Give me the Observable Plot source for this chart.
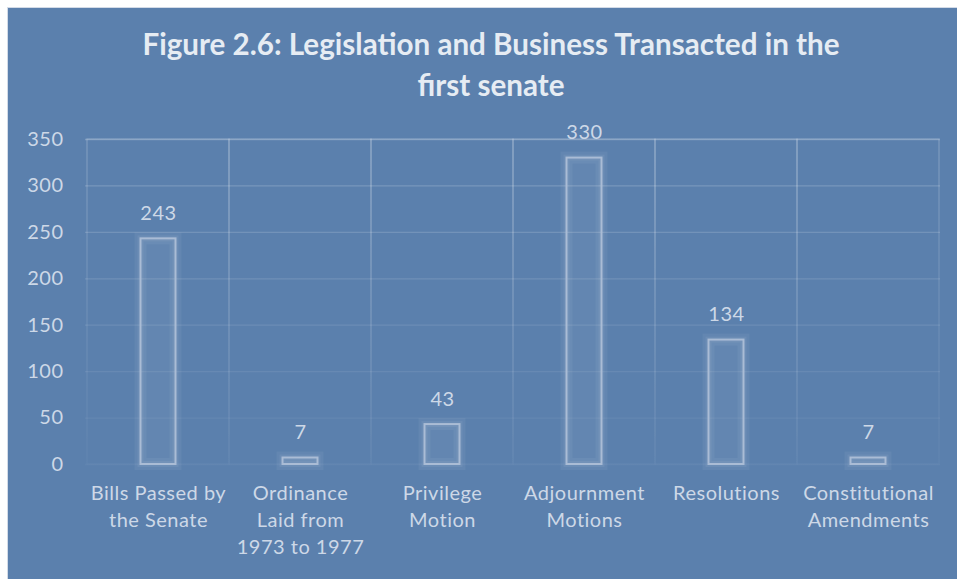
<!DOCTYPE html>
<html>
<head>
<meta charset="utf-8">
<script src="https://cdn.jsdelivr.net/npm/d3@7"></script>
<script src="https://cdn.jsdelivr.net/npm/@observablehq/plot@0.6"></script>
<style>
  html, body { margin: 0; padding: 0; background: #ffffff; }
  body { width: 957px; height: 579px; overflow: hidden; position: relative; font-family: Lato, "Open Sans", sans-serif; }
  #card {
    position: absolute; left: 7px; top: 7px; width: 960px; height: 580px;
    background: #5b80ad; border-top: 1px solid #d3dbe7; border-left: 1px solid #d3dbe7;
    overflow: hidden;
  }
  #title {
    position: absolute; left: 0; top: 15px; width: 966px; text-align: center;
    color: #e6ecf3; font-weight: 700; font-size: 29.6px; line-height: 41px;
  }
  #chart { position: absolute; left: 0; top: 100px; }
</style>
</head>
<body>
<div id="card">
  <div id="title">Figure 2.6: Legislation and Business Transacted in the<br>first senate</div>
  <div id="chart"></div>
</div>
<script>
// Business transacted in the first senate
const categories = [
  "Bills Passed by\nthe Senate",
  "Ordinance\nLaid from\n1973 to 1977",
  "Privilege\nMotion",
  "Adjournment\nMotions",
  "Resolutions",
  "Constitutional\nAmendments"
];
const counts = [243, 7, 43, 330, 134, 7];
const yTicks = [0, 50, 100, 150, 200, 250, 300, 350];

const rows = categories.map((c, i) => ({category: c, count: counts[i]}));
const yMax = d3.max(yTicks);

const textColor = "#cdd8e7";
const gridStroke = "url(#gridFade)";

const plot = Plot.plot({
  width: 949,
  height: 472,
  marginTop: 31,
  marginBottom: 116,
  marginLeft: 77,
  marginRight: 17,
  style: {background: "transparent", fontFamily: "Lato, 'Open Sans', sans-serif", fontSize: "20px", color: textColor, overflow: "visible"},
  x: {domain: categories, padding: 0, label: null},
  y: {domain: [0, yMax], label: null},
  marks: [
    // category cells give the vertical separators
    Plot.barY(categories, {x: d => d, y1: 0, y2: yMax, fill: "none", stroke: gridStroke, strokeWidth: 1.3}),
    Plot.ruleY(yTicks, {stroke: gridStroke, strokeWidth: 1.3}),
    // soft glow around each bar
    Plot.barY(rows, {x: "category", y: "count", insetLeft: 53.5, insetRight: 53.5, fill: "none", stroke: "#ffffff", strokeOpacity: 0.05, strokeWidth: 12}),
    Plot.barY(rows, {x: "category", y: "count", insetLeft: 53.5, insetRight: 53.5, fill: "none", stroke: "#ffffff", strokeOpacity: 0.06, strokeWidth: 6}),
    Plot.barY(rows, {x: "category", y: "count", insetLeft: 53.5, insetRight: 53.5, fill: "#ffffff", fillOpacity: 0.05, stroke: "#aabcd5", strokeWidth: 2}),
    Plot.text(rows, {x: "category", y: "count", text: d => String(d.count), dy: -25, fill: textColor, fontSize: 20, lineAnchor: "middle"}),
    Plot.axisY({ticks: yTicks, tickSize: 0, tickPadding: 22, fill: textColor, fontSize: 20}),
    Plot.axisX({tickSize: 0, tickPadding: 16, fill: textColor, fontSize: 20, lineHeight: 1.35})
  ]
});

// vertical fade for the gridlines, brighter at the top
const ys = plot.scale("y");
const svg = d3.select(plot.tagName === "svg" ? plot : plot.querySelector("svg"));
const grad = svg.insert("defs", ":first-child").append("linearGradient")
  .attr("id", "gridFade").attr("gradientUnits", "userSpaceOnUse")
  .attr("x1", 0).attr("x2", 0)
  .attr("y1", ys.range[1]).attr("y2", ys.range[0]);
grad.append("stop").attr("offset", "0%").attr("stop-color", "#ffffff").attr("stop-opacity", 0.2);
grad.append("stop").attr("offset", "55%").attr("stop-color", "#ffffff").attr("stop-opacity", 0.1);
grad.append("stop").attr("offset", "100%").attr("stop-color", "#ffffff").attr("stop-opacity", 0.03);

svg.selectAll("text").style("letter-spacing", "0.5px");

document.getElementById("chart").appendChild(plot);
</script>
</body>
</html>
